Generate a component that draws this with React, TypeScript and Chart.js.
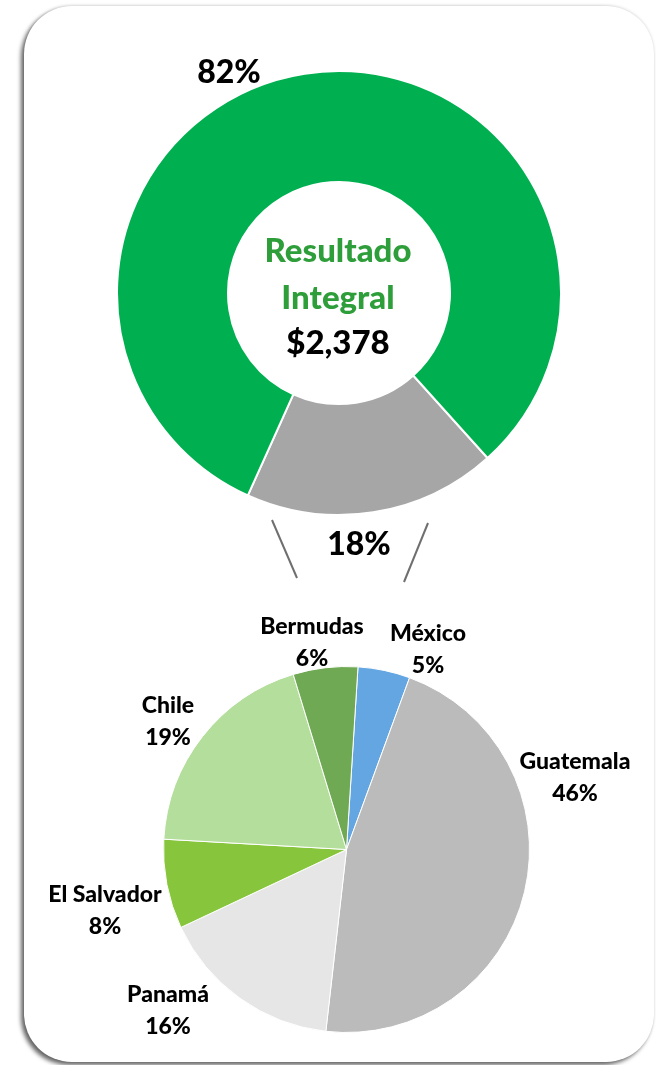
import React, { useEffect, useRef } from "react";
import { Chart, registerables } from "chart.js";

Chart.register(...registerables);

// Doughnut: share of total comprehensive income
const ringLabels = ["Resto", "Principal"];
const ringValues = [18.4, 81.6];
const ringPercents = ["18%", "82%"];
const ringColors = ["#A6A6A6", "#00B050"];

const centerTitle = ["Resultado", "Integral"];
const centerAmount = "$2,378";

// Pie: breakdown of the 18%
const countries = ["México", "Guatemala", "Panamá", "El Salvador", "Chile", "Bermudas"];
const countryValues = [4.6, 46.2, 16.2, 7.9, 19.4, 5.7];
const countryPercents = ["5%", "46%", "16%", "8%", "19%", "6%"];
const countryColors = ["#64A6E2", "#BBBBBB", "#E6E6E6", "#86C53C", "#B4DE9C", "#70A953"];

// label anchor positions (page px), Excel-style manual placement
const countryLabelPos = [
  [428, 648],
  [575, 776],
  [168, 1009],
  [105, 909],
  [168, 720],
  [312, 641],
];

const FONT = "Lato, 'Open Sans', sans-serif";

export default function App() {
  const ringRef = useRef<HTMLCanvasElement | null>(null);
  const pieRef = useRef<HTMLCanvasElement | null>(null);

  useEffect(() => {
    document.body.style.margin = "0";
    const ring = new Chart(ringRef.current!, {
      type: "doughnut",
      data: {
        labels: ringLabels,
        datasets: [
          {
            data: ringValues,
            backgroundColor: ringColors,
            borderColor: "#ffffff",
            borderWidth: 2,
          },
        ],
      },
      options: {
        animation: false,
        responsive: false,
        rotation: 138,
        cutout: "50%",
        plugins: { legend: { display: false }, tooltip: { enabled: false } },
        layout: { padding: 0 },
      },
    });
    const pie = new Chart(pieRef.current!, {
      type: "pie",
      data: {
        labels: countries,
        datasets: [
          {
            data: countryValues,
            backgroundColor: countryColors,
            borderColor: "#ffffff",
            borderWidth: 1,
          },
        ],
      },
      options: {
        animation: false,
        responsive: false,
        rotation: 3.6,
        plugins: { legend: { display: false }, tooltip: { enabled: false } },
        layout: { padding: 0 },
      },
    });
    return () => {
      ring.destroy();
      pie.destroy();
    };
  }, []);

  const label = (x: number, y: number, size: number, color = "#000") =>
    ({
      position: "absolute",
      left: x,
      top: y,
      transform: "translate(-50%, -50%)",
      fontFamily: FONT,
      fontWeight: 900,
      fontSize: size,
      color,
      whiteSpace: "nowrap",
      textAlign: "center",
    } as React.CSSProperties);

  return (
    <div style={{ position: "relative", width: 656, height: 1065, overflow: "hidden", background: "#fff" }}>
      <div
        style={{
          position: "absolute",
          left: 24,
          top: 6,
          width: 630,
          height: 1056,
          borderRadius: 48,
          background: "#fff",
          boxShadow: "-3px 3px 4px rgba(0,0,0,0.6), 0 -1px 3px rgba(0,0,0,0.12)",
        }}
      />
      <canvas
        ref={ringRef}
        width={446}
        height={446}
        style={{ position: "absolute", left: 116, top: 70, width: 446, height: 446 }}
      />
      <canvas
        ref={pieRef}
        width={367}
        height={367}
        style={{ position: "absolute", left: 163, top: 666, width: 367, height: 367 }}
      />
      <svg width={656} height={1065} style={{ position: "absolute", left: 0, top: 0, pointerEvents: "none" }}>
        <line x1={272} y1={520} x2={297} y2={578} stroke="#6f6f6f" strokeWidth={2} />
        <line x1={428} y1={523} x2={404} y2={582} stroke="#6f6f6f" strokeWidth={2} />
      </svg>
      <div style={label(229, 70, 32)}>{ringPercents[1]}</div>
      <div style={label(359, 542, 32)}>{ringPercents[0]}</div>
      <div style={label(338, 249, 33, "#2E9E3A")}>{centerTitle[0]}</div>
      <div style={label(338, 296, 33, "#2E9E3A")}>{centerTitle[1]}</div>
      <div style={label(338, 341, 33)}>{centerAmount}</div>
      {countries.map((c, i) => (
        <div key={c} style={{ ...label(countryLabelPos[i][0], countryLabelPos[i][1], 23), lineHeight: "32px" }}>
          {c}
          <br />
          {countryPercents[i]}
        </div>
      ))}
    </div>
  );
}
